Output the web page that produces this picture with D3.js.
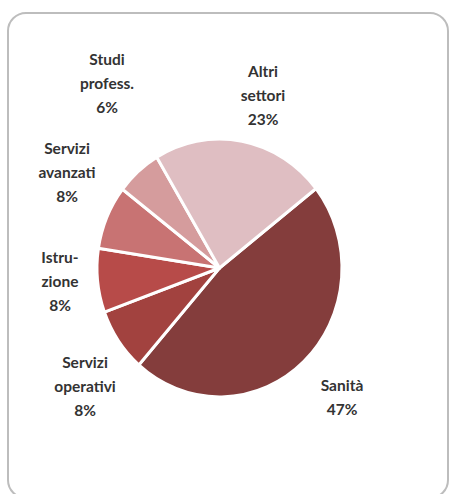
<!DOCTYPE html>
<html>
<head>
<meta charset="utf-8">
<script src="https://cdn.jsdelivr.net/npm/d3@7"></script>
<style>
  html, body { margin: 0; padding: 0; background: #fff; }
  svg { display: block; }
</style>
</head>
<body>
<svg id="chart" width="449" height="494"></svg>
<script>
// ---- data ----
const categories = ["Sanità", "Servizi operativi", "Istruzione", "Servizi avanzati", "Studi profess.", "Altri settori"];
const values = [47, 8, 8, 8, 6, 23];
const labelLines = [
  ["Sanità", "47%"],
  ["Servizi", "operativi", "8%"],
  ["Istru-", "zione", "8%"],
  ["Servizi", "avanzati", "8%"],
  ["Studi", "profess.", "6%"],
  ["Altri", "settori", "23%"]
];
const colors = ["#843d3c", "#a2423f", "#b74b49", "#c87373", "#d59c9d", "#dfbec2"];

// ---- layout ----
const cx = 219.5, cy = 268, r = 122.5, yStretch = 1.053;
const startDeg = 52;
const labelPos = [
  [342, 386], [85, 363], [60, 258], [67, 149], [107, 60], [263, 72]
];
const lineH = 24;

const svg = d3.select("#chart");

// frame
svg.append("rect")
  .attr("x", 8).attr("y", 13)
  .attr("width", 440).attr("height", 485)
  .attr("rx", 18).attr("ry", 18)
  .attr("fill", "#fff")
  .attr("stroke", "#bdbdbd")
  .attr("stroke-width", 2);

const pie = d3.pie()
  .sort(null)
  .value(d => d)
  .startAngle(startDeg * Math.PI / 180)
  .endAngle((startDeg + 360) * Math.PI / 180);

const arc = d3.arc().innerRadius(0).outerRadius(r);

const g = svg.append("g")
  .attr("transform", `translate(${cx},${cy}) scale(1,${yStretch})`);

g.selectAll("path")
  .data(pie(values))
  .join("path")
  .attr("d", arc)
  .attr("fill", (d, i) => colors[i])
  .attr("stroke", "#fff")
  .attr("stroke-width", 3)
  .attr("stroke-linejoin", "round");

// labels
const lg = svg.append("g")
  .attr("font-family", "Lato, 'Open Sans', sans-serif")
  .attr("font-weight", "bold")
  .attr("font-size", 15.5)
  .attr("fill", "#333")
  .attr("text-anchor", "middle");

categories.forEach((c, i) => {
  const t = lg.append("text");
  labelLines[i].forEach((ln, j) => {
    t.append("tspan")
      .attr("x", labelPos[i][0])
      .attr("y", labelPos[i][1] + j * lineH)
      .attr("dy", "0.35em")
      .text(ln);
  });
});
</script>
</body>
</html>
